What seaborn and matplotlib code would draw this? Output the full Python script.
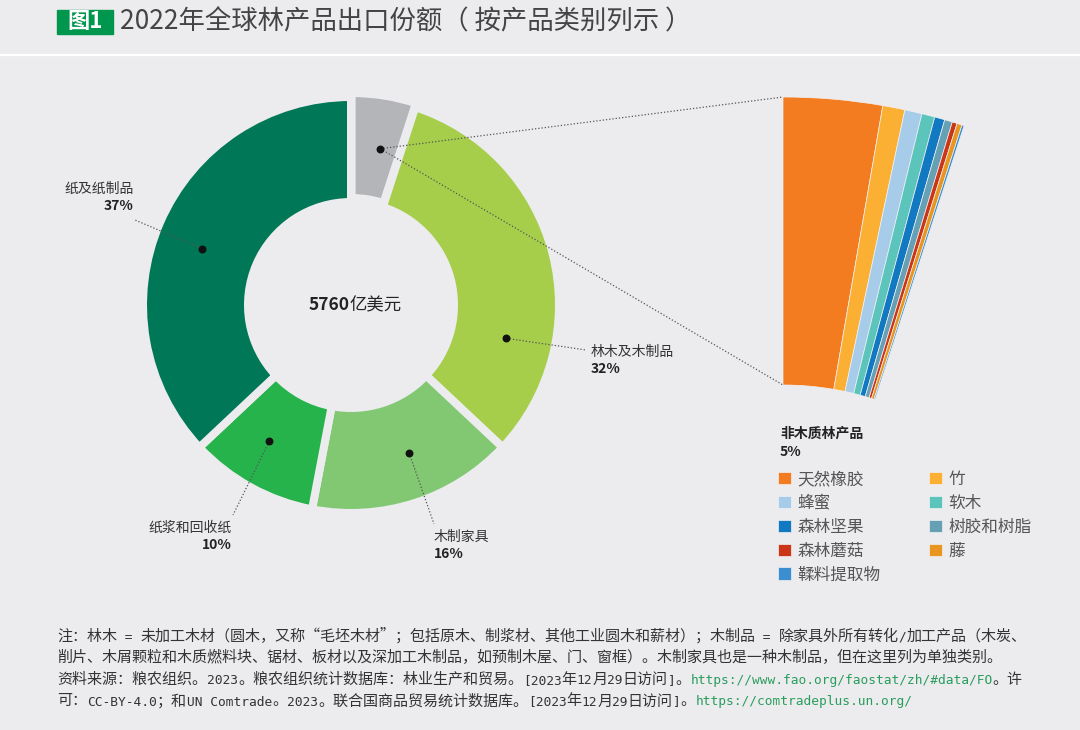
import numpy as np
import matplotlib.pyplot as plt
import seaborn as sns
from matplotlib.patches import Rectangle


# ==============================
# 1. Data
# ==============================

total_value = "5760"
total_unit = "亿美元"

main_labels = ["非木质林产品", "林木及木制品", "木制家具", "纸浆和回收纸", "纸及纸制品"]
main_share = [5, 32, 16, 10, 37]
main_colors = ["#b4b5b9", "#a6ce4b", "#82c873", "#26b34b", "#007757"]

nwfp_labels = ["天然橡胶", "竹", "蜂蜜", "软木", "森林坚果",
               "树胶和树脂", "森林蘑菇", "藤", "鞣料提取物"]
nwfp_share = [54.5, 12.2, 9.5, 7.2, 5.6, 4.3, 2.7, 2.8, 1.2]
nwfp_colors = ["#f47c20", "#fbb033", "#a7cce9", "#5bc5bc", "#1079c1",
               "#65a0b4", "#cc3618", "#e8961f", "#3b8fd1"]

title = "2022年全球林产品出口份额（ 按产品类别列示 ）"
fig_tag = "图1"

note_lines = [
    [("注：林木 = 未加工木材（圆木，又称“毛坯木材”；包括原木、制浆材、其他工业圆木和薪材）；木制品 = 除家具外所有转化/加工产品（木炭、", "t")],
    [("削片、木屑颗粒和木质燃料块、锯材、板材以及深加工木制品，如预制木屋、门、窗框）。木制家具也是一种木制品，但在这里列为单独类别。", "t")],
    [("资料来源：粮农组织。2023。粮农组织统计数据库：林业生产和贸易。[2023年12月29日访问]。", "t"),
     ("https://www.fao.org/faostat/zh/#data/FO", "u"),
     ("。许", "t")],
    [("可：CC-BY-4.0；和UN Comtrade。2023。联合国商品贸易统计数据库。[2023年12月29日访问]。", "t"),
     ("https://comtradeplus.un.org/", "u")],
]


# ==============================
# 2. Style / canvas
# ==============================

BG = "#ececef"
TXT = "#333333"
W, H = 1080, 730

sns.set_theme(style="white", rc={"figure.facecolor": BG, "axes.facecolor": BG})
plt.rcParams["font.family"] = ["Noto Sans CJK SC", "DejaVu Sans"]

fig = plt.figure(figsize=(W / 100, H / 100), dpi=100)
ax = fig.add_axes([0, 0, 1, 1])


def Y(v):
    # pixel row (from top) -> data y
    return H - v


# ==============================
# 3. Donut
# ==============================

cx, cy = 351, Y(305)
r_out, r_in = 204, 107
gap = 8

wedges, _ = ax.pie(
    np.array(main_share) / 100, center=(cx, cy), radius=r_out + gap / 2,
    startangle=90, counterclock=False, normalize=False, colors=main_colors,
    explode=[4, 0, 0, 0, 0],
    wedgeprops=dict(width=r_out - r_in + gap, edgecolor=BG, linewidth=gap * 0.72),
)

ax.text(cx - 1, cy, total_value, ha="right", va="center", fontsize=12.5,
        fontweight="bold", color="#222222")
ax.text(cx - 1, cy, total_unit, ha="left", va="center", fontsize=12.5, color="#222222")

# dot position along each wedge (clockwise fraction) and leader layout
dot_frac = [0.59, 0.73, 0.44, 0.56, 0.48]
dot_r = 159
label_layout = {
    "林木及木制品": dict(xy=(591, 352), ha="left", end=(586, 350)),
    "木制家具": dict(xy=(434, 537), ha="left", end=(434, 524)),
    "纸浆和回收纸": dict(xy=(232, 528), ha="right", end=(233, 515)),
    "纸及纸制品": dict(xy=(134, 189), ha="right", end=(135, 220)),
}

dots = []
for w, f in zip(wedges, dot_frac):
    a = np.deg2rad(w.theta2 - f * (w.theta2 - w.theta1))
    dots.append((cx + dot_r * np.cos(a), cy + dot_r * np.sin(a)))
ax.scatter([d[0] for d in dots], [d[1] for d in dots], s=22, color="#111111", zorder=5)

dot_style = dict(color="#555555", lw=0.9, linestyle=(0, (1, 1.6)), zorder=4)
for (dx, dy), name, share in zip(dots, main_labels, main_share):
    if name not in label_layout:
        continue
    lay = label_layout[name]
    ex, ey = lay["end"]
    ax.plot([dx, ex], [dy, Y(ey)], **dot_style)
    tx, ty = lay["xy"]
    ax.text(tx, Y(ty), name, ha=lay["ha"], va="center", fontsize=10, color=TXT)
    ax.text(tx, Y(ty + 17), f"{share}%", ha=lay["ha"], va="center", fontsize=10,
            fontweight="bold", color="#222222")


# ==============================
# 4. Zoomed fan for non-wood products
# ==============================

fx, fy = 783, Y(683)
f_out, f_in = 586, 298

fan, _ = ax.pie(
    np.array(nwfp_share) / 100 * main_share[0] / 100, center=(fx, fy), radius=f_out,
    startangle=90, counterclock=False, normalize=False, colors=nwfp_colors,
    wedgeprops=dict(width=f_out - f_in, edgecolor="#f1f1f3", linewidth=0.5),
)

gx, gy = dots[0]
ax.plot([gx, fx], [gy, fy + f_out], **dot_style)
ax.plot([gx, fx], [gy, fy + f_in], **dot_style)

ax.text(780, Y(434), main_labels[0], ha="left", va="center", fontsize=10,
        fontweight="bold", color="#222222")
ax.text(780, Y(452), f"{main_share[0]}%", ha="left", va="center", fontsize=10,
        fontweight="bold", color="#222222")

order = [0, 2, 4, 6, 8, 1, 3, 5, 7]
leg = ax.legend([fan[i] for i in order], [nwfp_labels[i] for i in order],
                ncols=2, loc="upper left", bbox_to_anchor=(778, Y(471)),
                bbox_transform=ax.transData, frameon=False, fontsize=12,
                handlelength=0.75, handleheight=0.75, handletextpad=0.4,
                labelspacing=0.41, columnspacing=2.95, borderpad=0, borderaxespad=0)
for t in leg.get_texts():
    t.set_color("#555555")


# ==============================
# 5. Title and notes
# ==============================

ax.add_patch(Rectangle((57, Y(34)), 56, 24, color="#00964d", zorder=3))
ax.text(85, Y(22), fig_tag, ha="center", va="center", fontsize=16,
        fontweight="bold", color="white", zorder=4)
ax.text(120, Y(22), title, ha="left", va="center", fontsize=19, color="#444444")
ax.plot([0, W], [Y(55), Y(55)], color="white", lw=1.6)

ax.set_xlim(0, W)
ax.set_ylim(0, H)
ax.set_aspect("equal")
ax.axis("off")


def runs(s):
    # split text into ascii / non-ascii pieces
    out = []
    for ch in s:
        kind = ch.isascii()
        if out and out[-1][1] == kind:
            out[-1][0] += ch
        else:
            out.append([ch, kind])
    return out


note_colors = {"t": "#333333", "u": "#2a9d5c"}
cjk_size, mono_size = 10.85, 9.3
renderer = fig.canvas.get_renderer()
for i, parts in enumerate(note_lines):
    y = Y(641 + i * 21.5)
    x = 57
    for s, c in parts:
        for piece, is_ascii in runs(s):
            if is_ascii:
                t = ax.text(x, y, piece, ha="left", va="baseline", fontsize=mono_size,
                            family=["DejaVu Sans Mono"], color=note_colors[c])
            else:
                t = ax.text(x, y, piece, ha="left", va="baseline", fontsize=cjk_size,
                            family=["Noto Sans CJK SC", "DejaVu Sans"],
                            color=note_colors[c])
            x += t.get_window_extent(renderer).width

plt.savefig("out.png", dpi=100, facecolor=BG)
